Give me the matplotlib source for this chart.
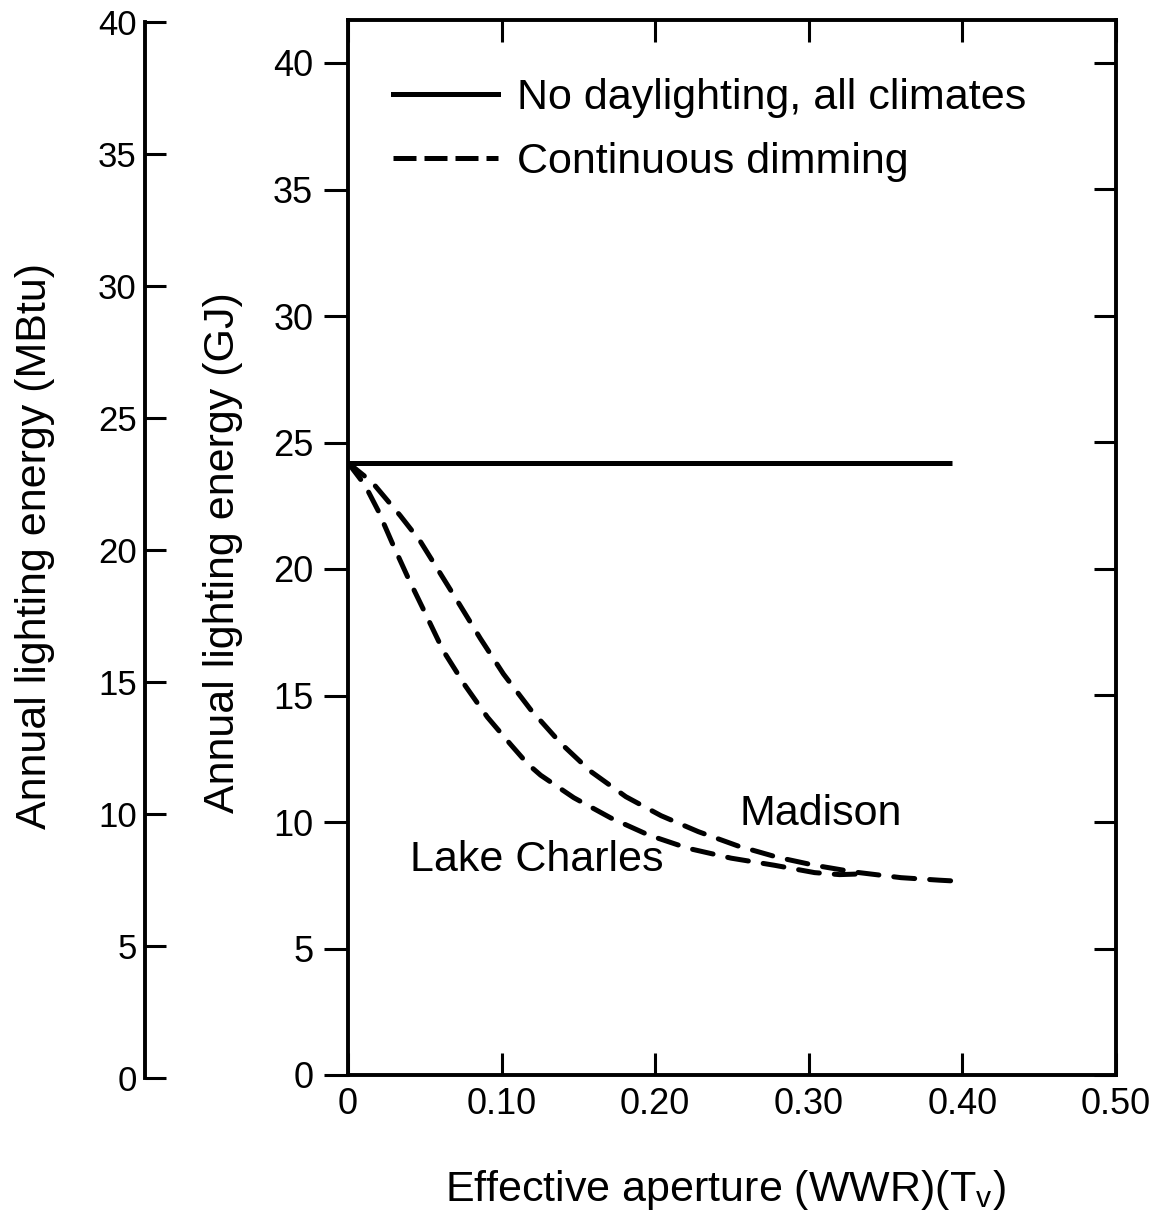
import matplotlib
matplotlib.use("Agg")
import matplotlib.pyplot as plt
from matplotlib.lines import Line2D

plt.rcParams['font.family'] = ['Liberation Sans', 'DejaVu Sans']

# ---- data ----
x_ticks = [0, 0.10, 0.20, 0.30, 0.40, 0.50]
x_ticklabels = ['0', '0.10', '0.20', '0.30', '0.40', '0.50']
gj_ticks = [0, 5, 10, 15, 20, 25, 30, 35, 40]
mbtu_ticks = [0, 5, 10, 15, 20, 25, 30, 35, 40]

no_daylight_x = [0.0, 0.393]
no_daylight_y = [24.2, 24.2]

madison_x = [0.0, 0.0157, 0.034, 0.047, 0.0588, 0.0731, 0.0862, 0.1012, 0.1188,
             0.1384, 0.158, 0.1809, 0.2038, 0.228, 0.254, 0.280, 0.3037, 0.330,
             0.360, 0.385, 0.400]
madison_y = [24.2, 23.43, 22.11, 21.1, 19.95, 18.55, 17.25, 15.85, 14.45,
             13.12, 12.0, 11.0, 10.25, 9.62, 9.05, 8.6, 8.29, 8.02,
             7.8, 7.7, 7.65]

lake_x = [0.0, 0.0111, 0.0196, 0.0287, 0.0392, 0.0503, 0.062, 0.0764, 0.0908,
          0.1058, 0.1169, 0.1254, 0.147, 0.1711, 0.1959, 0.2214, 0.2495, 0.2776,
          0.3037, 0.320, 0.335]
lake_y = [24.2, 23.31, 22.31, 21.04, 19.64, 18.25, 16.77, 15.38, 14.14,
          13.07, 12.3, 11.85, 10.96, 10.16, 9.48, 8.96, 8.57, 8.29,
          8.0, 7.92, 7.95]

legend_labels = ['No daylighting, all climates', 'Continuous dimming']

W, H = 1153, 1228
fig = plt.figure(figsize=(W / 100, H / 100), dpi=100)

def fx(px):
    return px / W

def fy(py):
    return 1 - py / H

# main axes
left, right, top, bottom = 348, 1116, 20, 1075
ax = fig.add_axes([fx(left), fy(bottom), fx(right) - fx(left), fy(top) - fy(bottom)])
ax.set_xlim(0, 0.5)
ax.set_ylim(0, (bottom - top) / 25.3)

lw = 3.6
dash = (0, (4.2, 3.0))
ax.plot(no_daylight_x, no_daylight_y, color='black', lw=lw, solid_capstyle='butt')
ax.plot(madison_x, madison_y, color='black', lw=lw, linestyle=dash,
        dash_capstyle='round', dash_joinstyle='round')
ax.plot(lake_x, lake_y, color='black', lw=lw, linestyle=dash,
        dash_capstyle='round', dash_joinstyle='round')

for sp in ax.spines.values():
    sp.set_linewidth(2.8)

ax.set_xticks(x_ticks)
ax.set_xticklabels(x_ticklabels)
ax.set_yticks(gj_ticks)
ax.tick_params(axis='x', direction='in', top=True, bottom=True, length=16, width=2.2,
               labelsize=26, pad=9)
ax.tick_params(axis='y', direction='out', left=True, right=False, length=17, width=2.2,
               labelsize=26, pad=8)

axr = ax.twinx()
axr.set_ylim(ax.get_ylim())
axr.set_yticks(gj_ticks)
axr.tick_params(axis='y', direction='in', right=True, length=16, width=2.2, labelright=False)
for sp in axr.spines.values():
    sp.set_visible(False)

# legend
handles = [Line2D([], [], color='black', lw=lw),
           Line2D([], [], color='black', lw=lw, linestyle=(0, (4.6, 1.6)))]
ax.legend(handles, legend_labels, loc='upper left', bbox_to_anchor=(0.058, 0.945),
          frameon=False, fontsize=31, handlelength=2.45, handletextpad=0.45,
          labelspacing=0.55, borderaxespad=0, borderpad=0)

ax.text(0.2552, 10.3, 'Madison', fontsize=31, ha='left', va='center')
ax.text(0.0404, 8.5, 'Lake Charles', fontsize=31, ha='left', va='center')

# secondary (MBtu) axis
sx, sb, st = 145, 1078, 22
ax2 = fig.add_axes([fx(sx), fy(sb), 0.0005, fy(st) - fy(sb)])
ax2.set_ylim(0, 40)
ax2.set_yticks(mbtu_ticks)
ax2.set_xticks([])
ax2.patch.set_visible(False)
for k in ['right', 'top', 'bottom']:
    ax2.spines[k].set_visible(False)
ax2.spines['left'].set_linewidth(2.8)
ax2.tick_params(axis='y', direction='in', length=15, width=2.2, labelsize=25, pad=6)

# axis labels
fig.text(fx(223), fy(553), 'Annual lighting energy (GJ)', rotation=90,
         fontsize=31, ha='center', va='center')
fig.text(fx(35), fy(546), 'Annual lighting energy (MBtu)', rotation=90,
         fontsize=31, ha='center', va='center')
fig.text(fx(725), fy(1190), r'Effective aperture (WWR)(T$_\mathregular{v}$)',
         fontsize=31, ha='center', va='center')

fig.savefig('out.png', dpi=100)
